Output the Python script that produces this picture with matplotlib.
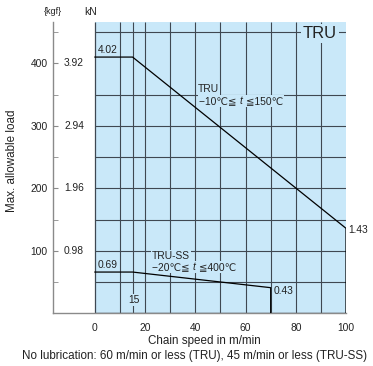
import matplotlib
matplotlib.use("Agg")
import matplotlib.pyplot as plt
from matplotlib.patches import Rectangle
from matplotlib.transforms import Bbox, offset_copy

plt.rcParams["font.family"] = ["Liberation Sans", "DejaVu Sans", "Noto Sans CJK JP"]

# chain speed (m/min) vs max. allowable load (kgf)
tru_speed = [0, 15, 100, 100]
tru_load = [410, 410, 136, 0]
trs_speed = [0, 15, 70, 70]
trs_load = [66, 66, 41, 0]

kgf_ticks = [100, 200, 300, 400]
kn_labels = ["0.98", "1.96", "2.94", "3.92"]
x_ticks = [0, 20, 40, 60, 80, 100]
h_grid = [50, 100, 150, 200, 250, 300, 350, 450]
v_grid = [10, 15, 20, 30, 40, 50, 60, 70, 80, 90]

BLUE = "#c9e8f9"
GRID = "#3f4852"
GRAY = "#8a8a8a"
TXT = "#222222"
YTOP = 466.6
XLEFT = -16.7

fig = plt.figure(figsize=(3.73, 3.66), dpi=100)
ax = fig.add_axes([53 / 373, 1 - 313.3 / 366, 293 / 373, 291.6 / 366])
ax.set_xlim(XLEFT, 100)
ax.set_ylim(0, YTOP)

# plot area
ax.axvspan(0, 100, color=BLUE, zorder=0, lw=0)
ax.hlines(h_grid, 0, 100, color=GRID, lw=0.8, zorder=1)
ax.vlines(v_grid, 0, YTOP, color=GRID, lw=0.8, zorder=1)
ax.vlines(0, 0, YTOP, color=GRID, lw=0.9, zorder=1)
ax.hlines(0, 0, 100, color=GRID, lw=1.0, zorder=2)

ax.plot(tru_speed, tru_load, color="black", lw=0.9, zorder=3)
ax.plot(trs_speed, trs_load, color="black", lw=0.9, zorder=3)

for s in ["top", "right"]:
    ax.spines[s].set_visible(False)
ax.spines["left"].set_color(GRAY)
ax.spines["bottom"].set_color(GRAY)
ax.spines["left"].set_linewidth(1.0)
ax.spines["bottom"].set_linewidth(1.0)

ax.set_yticks(kgf_ticks)
ax.set_yticks([50, 150, 250, 350, 450], minor=True)
ax.tick_params(axis="y", which="both", direction="in", length=3.5, color=GRAY,
               labelsize=7.4, labelcolor=TXT, pad=4)
ax.set_xticks(x_ticks)
ax.tick_params(axis="x", length=0, labelsize=7.4, labelcolor=TXT, pad=7)

for y, lab in zip(kgf_ticks, kn_labels):
    ax.text(-4.4, y, lab, ha="right", va="center", fontsize=7.4, color=TXT)

box = dict(facecolor=BLUE, edgecolor="none", pad=0.6)
lbl = dict(fontsize=7.4, color=TXT, bbox=box, zorder=4)
ax.text(1.0, 421, "4.02", ha="left", va="center", **lbl)
ax.text(1.2, 77, "0.69", ha="left", va="center", **lbl)
ax.text(71.3, 36, "0.43", ha="left", va="center", **lbl)
ax.text(100.8, 133, "1.43", ha="left", va="center", fontsize=7.4, color=TXT)
ax.text(15.5, 21, "15", ha="center", va="center", **lbl)


def temp_range(x, y, lo, hi):
    # "lo℃≦ t ≦hi℃" with an italic t, plus a blue patch behind it
    renderer = fig.canvas.get_renderer()
    pieces = [(lo + "\u2103\u2266 ", "normal"), ("t", "italic"), (" \u2266" + hi + "\u2103", "normal")]
    trans = ax.transData
    boxes = []
    for txt, style in pieces:
        t = ax.text(x, y, txt, ha="left", va="center", fontsize=7.4, color=TXT,
                    style=style, transform=trans, zorder=5)
        bb = t.get_window_extent(renderer)
        boxes.append(bb)
        trans = offset_copy(trans, fig=fig, x=bb.width, y=0, units="dots")
    full = Bbox.union(boxes).padded(1)
    (x0, y0), (x1, y1) = ax.transData.inverted().transform(full.get_points())
    ax.add_patch(Rectangle((x0, y0), x1 - x0, y1 - y0, facecolor=BLUE,
                           edgecolor="none", zorder=4))


ax.text(41.0, 359, "TRU", ha="left", va="center", **lbl)
temp_range(41.6, 340, "\u221210", "150")
ax.text(22.8, 92, "TRU-SS", ha="left", va="center", **lbl)
temp_range(22.8, 74, "\u221220", "400")

ax.text(89.6, 448, "TRU", ha="center", va="center", fontsize=12, color=TXT,
        bbox=dict(facecolor=BLUE, edgecolor="none", pad=1.5), zorder=4)

fig.text(53 / 373, 1 - 12 / 366, "{kgf}", ha="center", va="center", fontsize=6.5, color=TXT)
fig.text(91 / 373, 1 - 12 / 366, "kN", ha="center", va="center", fontsize=7.4, color=TXT)
fig.text(12.5 / 373, 1 - 161 / 366, "Max. allowable load", rotation=90,
         ha="center", va="center", fontsize=8.4, color=TXT)
fig.text(204 / 373, 1 - 341 / 366, "Chain speed in m/min", ha="center", va="center",
         fontsize=8.4, color=TXT)
fig.text(194 / 373, 1 - 356 / 366,
         "No lubrication: 60 m/min or less (TRU), 45 m/min or less (TRU-SS)",
         ha="center", va="center", fontsize=8.4, color=TXT)

fig.savefig("out.png", dpi=100)
